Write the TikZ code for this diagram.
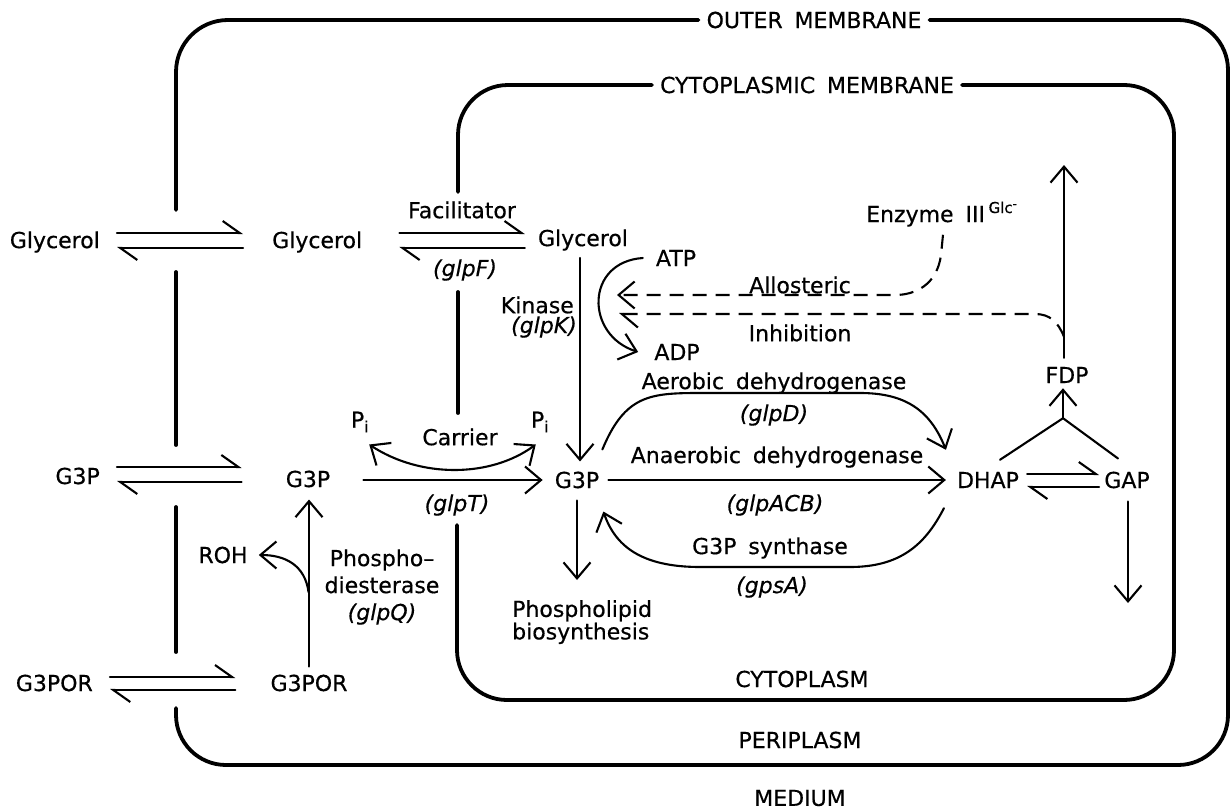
\documentclass[tikz,border=0pt]{standalone}
\usepackage{fontspec}
\setmainfont{DejaVu Sans}[UprightFeatures={FakeBold=0.5}, ItalicFeatures={FakeBold=0.5}, WordSpace=1.7]
\usetikzlibrary{arrows.meta,calc}
\begin{document}
\begin{tikzpicture}[x=1pt,y=-1pt,
  every node/.style={inner sep=0pt, font=\fontsize{22}{26}\selectfont},
  gene/.style={font=\fontsize{22}{26}\selectfont\itshape},
  mem/.style={line width=3.8pt, line cap=round},
  ln/.style={line width=2.1pt, line cap=round},
  arr/.style={ln, -{Straight Barb[length=16pt,width=27pt]}},
  dblarr/.style={ln, {Straight Barb[length=16pt,width=27pt]}-{Straight Barb[length=16pt,width=27pt]}},
  harp/.style={ln, -{Straight Barb[harpoon,length=17pt,width=24pt]}},
  dsh/.style={ln, line cap=butt, dash pattern=on 14pt off 9pt}]
\useasboundingbox (0,0) rectangle (1232,811);
\fill[white] (0,0) rectangle (1232,811);

% region and membrane labels
\node (om) at (814,20) {OUTER MEMBRANE};
\node (cm) at (807,85) {CYTOPLASMIC MEMBRANE};
\node (cyto) at (802,679) {CYTOPLASM};
\node (peri) at (800,740) {PERIPLASM};
\node (med) at (800,798) {MEDIUM};

% outer membrane
\draw[mem, rounded corners=52pt] ($(om.west)+(-8,0)$) -- (176,20) -- (176,210);
\draw[mem] (176,272) -- (176,445);
\draw[mem] (176,507) -- (176,652);
\draw[mem, rounded corners=50pt] (176,708) -- (176,765) -- (1228,765) -- (1228,20) -- ($(om.east)+(8,0)$);

% cytoplasmic membrane
\draw[mem, rounded corners=50pt] ($(cm.west)+(-8,0)$) -- (458,85) -- (458,192);
\draw[mem] (458,292) -- (458,413);
\draw[mem, rounded corners=50pt] (457,525) -- (457,700) -- (1174,700) -- (1174,85) -- ($(cm.east)+(8,0)$);

% metabolites
\node[anchor=east] (glyM) at (100,242) {Glycerol};
\node[anchor=west] (glyP) at (272,242) {Glycerol};
\node (glyC) at (583,240) {Glycerol};
\node[anchor=east] (g3pM) at (100,476) {G3P};
\node (g3pP) at (308,479) {G3P};
\node (g3pC) at (577,480) {G3P};
\node[anchor=east] (g3porM) at (93,683) {G3POR};
\node (g3porP) at (309,683) {G3POR};
\node (dhap) at (988,480) {DHAP};
\node (gap) at (1127,480) {GAP};
\node (fdp) at (1067,375) {FDP};
\node (atp) at (676,258) {ATP};
\node (adp) at (677,352) {ADP};
\node (roh) at (223,555) {ROH};
\node[anchor=north west, align=left, font=\fontsize{22}{22.5}\selectfont] (plb) at (512,600) {Phospholipid\\biosynthesis};
\node[anchor=base west] (enz) at (866,222) {Enzyme III\,\raisebox{9pt}{\fontsize{15}{15}\selectfont Glc\raisebox{5pt}{\fontsize{12}{12}\selectfont -}}};

% enzyme labels
\node (facil) at (462,210) {Facilitator};
\node[gene] (glpF) at (465,270) {(glpF)};
\node[anchor=east] (kin) at (574,305) {Kinase};
\node[gene,anchor=east] (glpK) at (577,327) {(glpK)};
\node (allo) at (800,285) {Allosteric};
\node (inhib) at (800,333) {Inhibition};
\node (aer) at (774,383) {Aerobic dehydrogenase};
\node[gene] (glpD) at (774,415) {(glpD)};
\node (anaer) at (777,457) {Anaerobic dehydrogenase};
\node[gene] (glpACB) at (775,505) {(glpACB)};
\node (synth) at (770,548) {G3P synthase};
\node[gene] (gpsA) at (772,587) {(gpsA)};
\node (pi1) at (360,422) {P\textsubscript{i}};
\node (pi2) at (540,422) {P\textsubscript{i}};
\node (carrier) at (460,437) {Carrier};
\node[gene] (glpT) at (457,505) {(glpT)};
\node[align=center, font=\fontsize{22}{27}\selectfont] (pde) at (382,587) {Phospho--\\diesterase\\\textit{(glpQ)}};

% free ends
\coordinate (fdpTop) at (1064,165);
\coordinate (gapOut) at (1128,603);
\coordinate (alloE) at (617,295);
\coordinate (inhE) at (619,314);
\coordinate (apex) at ($(fdp.south)+(-4,35)$);
\coordinate (rohB) at ($(g3porP.north)!0.44!(g3pP.south)$);

% equilibria across outer membrane
\draw[harp] ($(glyM.east)+(17,-9)$) -- ($(glyM.east -| glyP.west)+(-29,-9)$);
\draw[harp] ($(glyM.east -| glyP.west)+(-29,6)$) -- ($(glyM.east)+(17,6)$);
\draw[harp] ($(g3pM.east)+(17,-9)$) -- ($(g3pM.east -| g3pP.west)+(-44,-9)$);
\draw[harp] ($(g3pM.east -| g3pP.west)+(-44,6)$) -- ($(g3pM.east)+(17,6)$);
\draw[harp] ($(g3porM.east)+(17,-6)$) -- ($(g3porM.east -| g3porP.west)+(-35,-6)$);
\draw[harp] ($(g3porM.east -| g3porP.west)+(-35,7)$) -- ($(g3porM.east)+(17,7)$);

% facilitator
\draw[harp] ($(glyP.east)+(37,-9)$) -- ($(glyP.east -| glyC.west)+(-13,-9)$);
\draw[harp] ($(glyP.east -| glyC.west)+(-13,6)$) -- ($(glyP.east)+(37,6)$);

% carrier
\draw[arr] ($(g3pP.east)+(33,1)$) -- ($(g3pC.west)+(-12,0)$);
\draw[dblarr] ($(pi1.south east)+(0,12)$) .. controls (420,478) and (490,478) .. ($(pi2.south west)+(5,12)$);

% periplasmic phosphodiesterase
\draw[arr] ($(g3porP.north)+(0,-8)$) -- ($(g3pP.south)+(1,12)$);
\draw[arr] (rohB) .. controls (305,565) and (285,555) .. ($(roh.east)+(11,0)$);

% kinase
\draw[arr] ($(glyC.south)+(-3,7)$) -- ($(g3pC.north)+(3,-10)$);
\draw[arr] ($(atp.west)+(-13,0)$) .. controls (585,262) and (585,335) .. ($(adp.west)+(-16,0)$);

% dehydrogenases
\draw[arr] ($(g3pC.north east)+(3,-22)$) .. controls (625,395) and (650,393) .. (700,393) -- (860,393) .. controls (905,393) and (930,410) .. ($(dhap.north west)+(-11,-22)$);
\draw[arr] ($(g3pC.east)+(9,0)$) -- ($(dhap.west)+(-11,0)$);
\draw[arr] ($(dhap.south west)+(-13,20)$) .. controls (925,545) and (900,567) .. (850,567) -- (700,567) .. controls (640,567) and (615,545) .. ($(g3pC.south east)+(4,23)$);

% phospholipid
\draw[arr] ($(g3pC.south)+(0,12)$) -- ($(g3pC.south |- plb.north)+(0,-20)$);

% glycolysis side
\draw[ln] ($(dhap.north)+(12,-12)$) -- (apex) -- ($(gap.north)+(-9,-13)$);
\draw[arr] (apex) -- ($(fdp.south)+(-4,5)$);
\draw[arr] ($(fdp.north)+(-3,-9)$) -- (fdpTop);
\draw[harp] ($(dhap.east)+(8,-6)$) -- ($(dhap.east -| gap.west)+(-5,-6)$);
\draw[harp] ($(dhap.east -| gap.west)+(-5,7)$) -- ($(dhap.east)+(8,7)$);
\draw[arr] ($(gap.south)+(1,13)$) -- (gapOut);

% inhibition
\draw[dsh, -{Straight Barb[length=16pt,width=27pt]}] ($(enz.south west)+(77,8)$) -- (941,255) .. controls (937,285) and (915,295) .. (895,295) -- (alloE);
\draw[dsh, -{Straight Barb[harpoon,length=16pt,width=27pt]}] ($(fdp.north)+(-3,-30)$) .. controls (1058,322) and (1050,314) .. (1035,314) -- (inhE);
\end{tikzpicture}
\end{document}
